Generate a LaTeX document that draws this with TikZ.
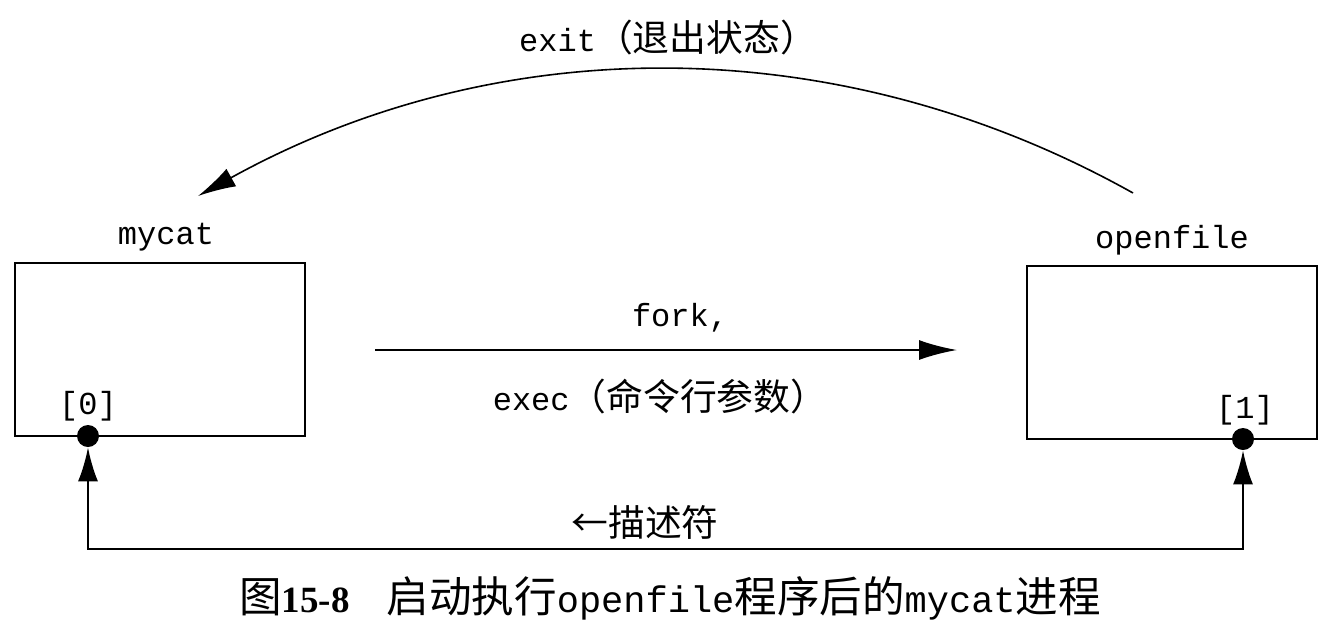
\documentclass[tikz,border=0pt]{standalone}
\usepackage{fontspec}
\setmainfont{Liberation Serif}
\setmonofont{Liberation Mono}
\newfontfamily\cjk[Scale=1.15]{Noto Sans CJK SC}
\usetikzlibrary{arrows.meta}

\begin{document}
\begin{tikzpicture}[x=0.5pt,y=-0.5pt]
  \tikzset{every node/.style={inner sep=0pt,font=\fontsize{16}{18}\selectfont\ttfamily}};
  \tikzset{proc/.style={draw,line width=1pt,minimum width=145pt,minimum height=86.5pt}};
  \tikzset{fd/.style={circle,fill,minimum size=11pt}};
  \tikzset{tip/.style={arrows={-Latex[length=19pt,width=10pt]}}};
  \useasboundingbox (0,0) rectangle (1336,632);
  \node[proc] (mc) at (160,349.5){};
  \node[proc] (of) at (1171.5,352.5){};
  \node (mcl) at (166,237){mycat};
  \node (ofl) at (1172,240){openfile};
  \node (fd0l) at (88,406){[0]};
  \node (fd1l) at (1245,410){[1]};
  \node[fd] (fd0) at (88,436){};
  \node[fd] (fd1) at (1243,439){};
  \coordinate (b0) at (88,549);
  \coordinate (b1) at (1243,549);
  \draw[line width=1pt,arrows={Latex[length=17pt,width=10pt]-Latex[length=17pt,width=10pt]}] (fd0) -- (b0) -- (b1) -- (fd1);
  \node (fdl) at (645,522){\cjk ←描述符};
  % fork / exec
  \coordinate (f0) at (375,350);
  \coordinate (f1) at (957,350);
  \draw[line width=1pt,tip] (f0) -- (f1);
  \node (forkl) at (680,318){fork,};
  \node (execl) at (660,397){exec{\cjk （命令行参数）}};
  % exit
  \coordinate (e1) at (1133,193);
  \coordinate (e0) at (198,196);
  \draw[line width=0.8pt,tip] (e1) .. controls (840,29) and (500,29) .. (e0);
  \node (exitl) at (668,38){exit{\cjk （退出状态）}};
  % caption
  \node[font=\fontsize{18.5}{21}\selectfont] (cap) at (670,598){{\cjk 图}\textbf{15-8}\quad{\cjk 启动执行}\texttt{openfile}{\cjk 程序后的}\texttt{mycat}{\cjk 进程}};
\end{tikzpicture}
\end{document}
